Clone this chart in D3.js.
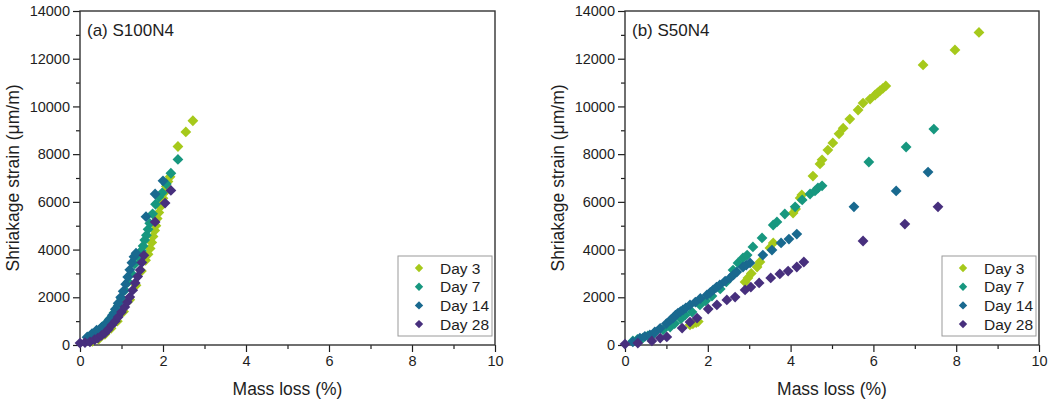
<!DOCTYPE html>
<html>
<head>
<meta charset="utf-8">
<script src="https://cdn.jsdelivr.net/npm/d3@7"></script>
<style>
  html, body { margin: 0; padding: 0; background: #fff; }
  svg { display: block; font-family: "Liberation Sans", Arial, sans-serif; }
</style>
</head>
<body>
<svg id="chart" width="1051" height="403"></svg>
<script>
// Shrinkage strain vs. mass loss, two mixes, four curing ages.
const seriesNames = ["Day 3", "Day 7", "Day 14", "Day 28"];
const seriesColors = ["#a6c91b", "#17977f", "#19698f", "#472f7d"];
const xTicks = [0, 2, 4, 6, 8, 10];
const yTicks = [0, 2000, 4000, 6000, 8000, 10000, 12000, 14000];

// (a) S100N4 — [mass loss %, strain µm/m]
const s100Day3 = [[0.3,150],[0.45,250],[0.6,450],[0.75,700],[0.9,1000],[1.05,1400],[1.2,1900],[1.35,2500],[1.48,3100],[1.58,3550],[1.64,3800],[1.69,4050],[1.73,4300],[1.76,4550],[1.80,4800],[1.83,5000],[1.86,5300],[1.90,5550],[1.94,5800],[1.97,6000],[2.0,6150],[2.04,6400],[2.08,6650],[2.12,6850],[2.17,7050],[2.36,8320],[2.55,8930],[2.72,9400]];
const s100Day7 = [[0.19,340],[0.3,450],[0.4,560],[0.5,700],[0.62,900],[0.72,1100],[0.82,1350],[0.92,1650],[1.0,1950],[1.08,2300],[1.16,2650],[1.24,3000],[1.32,3400],[1.4,3700],[1.48,3950],[1.52,4150],[1.56,4400],[1.6,4600],[1.64,4850],[1.68,5100],[1.75,5500],[1.82,5900],[1.90,6200],[1.98,6380],[2.08,6750],[2.19,7200],[2.36,7780]];
const s100Day14 = [[0.17,330],[0.29,480],[0.4,620],[0.53,760],[0.62,880],[0.7,1050],[0.78,1250],[0.85,1500],[0.92,1750],[0.98,2000],[1.04,2250],[1.1,2550],[1.15,2850],[1.2,3150],[1.25,3450],[1.3,3700],[1.35,3850],[1.59,5380],[1.81,6330],[2.0,6880]];
const s100Day28 = [[0.0,80],[0.12,100],[0.24,130],[0.35,220],[0.43,290],[0.52,400],[0.6,500],[0.68,650],[0.77,840],[0.85,1000],[0.92,1170],[1.0,1380],[1.08,1590],[1.14,1800],[1.2,2010],[1.27,2300],[1.33,2600],[1.39,2870],[1.45,3140],[1.49,3460],[1.54,3760],[1.81,5160],[2.05,5950],[2.19,6480]];

// (b) S50N4
const s50Day3 = [[1.57,840],[1.64,890],[1.72,940],[1.77,980],[2.90,2640],[2.97,2810],[3.05,3000],[3.19,3270],[3.26,3480],[3.50,4070],[3.58,4280],[4.06,5530],[4.12,5700],[4.23,6160],[4.27,6290],[4.54,7080],[4.71,7590],[4.76,7760],[4.90,8170],[5.02,8470],[5.17,8850],[5.27,9090],[5.43,9470],[5.63,9850],[5.75,10140],[5.92,10310],[6.04,10480],[6.10,10570],[6.16,10660],[6.23,10760],[6.30,10860],[7.20,11740],[7.97,12370],[8.55,13100]];
const s50Day7 = [[0.19,170],[0.3,230],[0.43,290],[0.55,380],[0.7,480],[0.92,630],[1.09,750],[1.2,900],[1.35,1100],[1.45,1250],[1.62,1380],[1.81,1680],[1.95,1850],[2.1,2050],[2.3,2350],[2.45,2650],[2.61,3140],[2.73,3440],[2.85,3650],[2.95,3770],[3.09,4110],[3.31,4490],[3.58,5030],[3.67,5160],[3.86,5490],[4.11,5790],[4.28,6080],[4.47,6330],[4.59,6460],[4.66,6580],[4.76,6670],[5.89,7670],[6.79,8300],[7.46,9050]];
const s50Day14 = [[0.19,130],[0.36,290],[0.48,360],[0.60,420],[0.72,545],[0.85,700],[1.0,900],[1.10,1050],[1.16,1130],[1.22,1250],[1.28,1340],[1.34,1400],[1.40,1470],[1.47,1560],[1.57,1680],[1.7,1800],[1.82,1950],[1.98,2100],[2.06,2200],[2.13,2310],[2.21,2420],[2.29,2520],[2.42,2680],[2.54,2810],[2.62,2940],[2.70,3060],[2.85,3270],[2.93,3350],[3.02,3440],[3.33,3770],[3.55,3980],[3.77,4280],[3.96,4440],[4.15,4650],[5.53,5790],[6.55,6460],[7.32,7250]];
const s50Day28 = [[0.0,40],[0.31,80],[0.65,170],[0.85,290],[1.01,340],[1.38,710],[1.57,960],[1.74,1130],[2.01,1510],[2.22,1680],[2.46,1890],[2.66,2010],[2.90,2310],[3.04,2430],[3.24,2600],[3.52,2810],[3.74,2980],[3.94,3100],[4.15,3270],[4.32,3480],[5.75,4360],[6.76,5070],[7.56,5790]];

const panels = [
  { label: "(a) S100N4", left: 80, right: 495, series: [s100Day3, s100Day7, s100Day14, s100Day28] },
  { label: "(b) S50N4", left: 625, right: 1039, series: [s50Day3, s50Day7, s50Day14, s50Day28] }
];

const plotTop = 11, plotBottom = 345;
const svg = d3.select("#chart");
const ink = "#1e1e1e";

function diamond(r) {
  return `M0,${-r}L${r},0L0,${r}L${-r},0Z`;
}

panels.forEach(p => {
  const x = d3.scaleLinear().domain([0, 10]).range([p.left, p.right]);
  const y = d3.scaleLinear().domain([0, 14000]).range([plotBottom, plotTop]);
  const g = svg.append("g");

  // minor ticks
  g.append("g").attr("transform", `translate(0,${plotBottom})`)
    .call(d3.axisBottom(x).tickValues(d3.range(1, 10, 2)).tickSize(4).tickFormat(""))
    .call(a => a.select(".domain").remove())
    .call(a => a.selectAll("line").attr("stroke", ink).attr("stroke-width", 1.2));
  g.append("g").attr("transform", `translate(${p.left},0)`)
    .call(d3.axisLeft(y).tickValues(d3.range(1000, 14000, 2000)).tickSize(4).tickFormat(""))
    .call(a => a.select(".domain").remove())
    .call(a => a.selectAll("line").attr("stroke", ink).attr("stroke-width", 1.2));

  // major ticks + labels
  g.append("g").attr("transform", `translate(0,${plotBottom})`)
    .call(d3.axisBottom(x).tickValues(xTicks).tickSize(7).tickPadding(4).tickFormat(d3.format("d")))
    .call(a => a.select(".domain").remove())
    .call(a => a.selectAll("line").attr("stroke", ink).attr("stroke-width", 1.2))
    .call(a => a.selectAll("text").attr("fill", ink).style("font-size", "14.5px").style("font-family", "Liberation Sans, Arial, sans-serif"));
  g.append("g").attr("transform", `translate(${p.left},0)`)
    .call(d3.axisLeft(y).tickValues(yTicks).tickSize(7).tickPadding(3).tickFormat(d3.format("d")))
    .call(a => a.select(".domain").remove())
    .call(a => a.selectAll("line").attr("stroke", ink).attr("stroke-width", 1.2))
    .call(a => a.selectAll("text").attr("fill", ink).style("font-size", "14.5px").style("font-family", "Liberation Sans, Arial, sans-serif"));

  // frame
  g.append("rect")
    .attr("x", p.left).attr("y", plotTop)
    .attr("width", p.right - p.left).attr("height", plotBottom - plotTop)
    .attr("fill", "none").attr("stroke", "#333").attr("stroke-width", 1.4);

  // axis titles
  g.append("text")
    .attr("x", (p.left + p.right) / 2).attr("y", 395)
    .attr("text-anchor", "middle").attr("fill", ink)
    .style("font-size", "17.5px").text("Mass loss (%)");
  g.append("text")
    .attr("transform", `translate(${p.left - 61},${(plotTop + plotBottom) / 2}) rotate(-90)`)
    .attr("text-anchor", "middle").attr("fill", ink)
    .style("font-size", "17.5px").text("Shriakage strain (\u03bcm/m)");

  // panel label
  g.append("text")
    .attr("x", p.left + 7).attr("y", 36).attr("fill", ink)
    .style("font-size", "17px").text(p.label);

  // points
  p.series.forEach((pts, i) => {
    g.append("g").selectAll("path").data(pts).join("path")
      .attr("d", diamond(5.4))
      .attr("transform", d => `translate(${x(d[0])},${y(d[1])})`)
      .attr("fill", seriesColors[i]);
  });

  // legend
  const lx = p.right - 97, ly = 256;
  const lg = g.append("g").attr("transform", `translate(${lx},${ly})`);
  lg.append("rect").attr("width", 94).attr("height", 80)
    .attr("fill", "#fff").attr("stroke", "#9a9a9a").attr("stroke-width", 1);
  seriesNames.forEach((name, i) => {
    const cy = 12 + i * 18.7;
    lg.append("path").attr("d", diamond(4.2))
      .attr("transform", `translate(21,${cy})`).attr("fill", seriesColors[i]);
    lg.append("text").attr("x", 42).attr("y", cy + 5.5).attr("fill", ink)
      .style("font-size", "15.5px").text(name);
  });
});
</script>
</body>
</html>
